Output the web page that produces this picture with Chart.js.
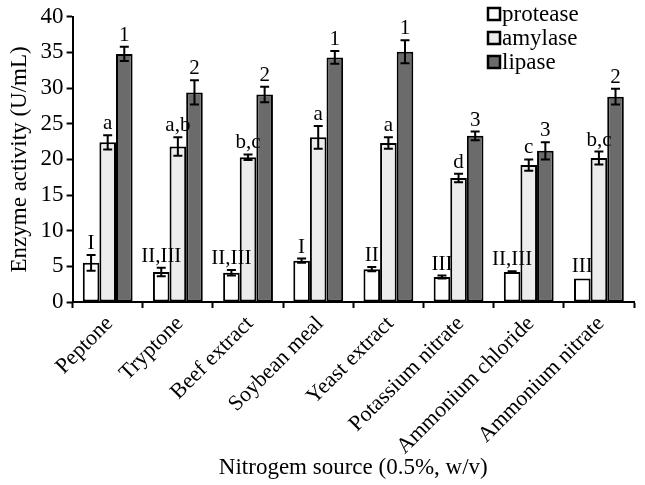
<!DOCTYPE html>
<html>
<head>
<meta charset="utf-8">
<script src="https://cdn.jsdelivr.net/npm/chart.js@4.4.0/dist/chart.umd.min.js"></script>
<style>
  html, body { margin: 0; padding: 0; background: #fff; }
  #wrap { width: 645px; height: 485px; position: relative; }
</style>
</head>
<body>
<div id="wrap"><canvas id="myChart"></canvas></div>
<script>
// categories and series values (U/mL)
const categories = [
  "Peptone", "Tryptone", "Beef extract", "Soybean meal",
  "Yeast extract", "Potassium nitrate", "Ammonium chloride", "Ammonium nitrate",
];
const protease = [5.5, 4.2, 4.1, 5.8, 4.6, 3.5, 4.2, 3.3];
const amylase = [22.4, 21.8, 20.3, 23.1, 22.3, 17.4, 19.2, 20.2];
const lipase = [34.8, 29.4, 29.1, 34.3, 35.1, 23.3, 21.2, 28.8];

// error (± SD)
const proteaseErr = [1.1, 0.6, 0.4, 0.3, 0.3, 0.2, 0.1, 0];
const amylaseErr = [1.0, 1.3, 0.4, 1.6, 0.8, 0.6, 0.8, 0.9];
const lipaseErr = [1.0, 1.7, 1.1, 0.9, 1.6, 0.6, 1.2, 1.1];

// significance letters
const proteaseLbl = ["I", "II,III", "II,III", "I", "II", "III", "II,III", "III"];
const amylaseLbl = ["a", "a,b", "b,c", "a", "a", "d", "c", "b,c"];
const lipaseLbl = ["1", "2", "2", "1", "1", "3", "3", "2"];

const yTicks = [0, 5, 10, 15, 20, 25, 30, 35, 40];

const FONT = "'Liberation Serif', 'Times New Roman', serif";

const series = [
  { label: "protease", data: protease, err: proteaseErr, marks: proteaseLbl, color: "#ffffff" },
  { label: "amylase", data: amylase, err: amylaseErr, marks: amylaseLbl, color: "#ececec" },
  { label: "lipase", data: lipase, err: lipaseErr, marks: lipaseLbl, color: "#6b6b6b" },
];

// error bars + letters above them
const errorBarPlugin = {
  id: "errorBars",
  afterDatasetsDraw(chart) {
    const { ctx } = chart;
    const y = chart.scales.y;
    ctx.save();
    chart.data.datasets.forEach((ds, i) => {
      const meta = chart.getDatasetMeta(i);
      meta.data.forEach((bar, j) => {
        const v = ds.data[j];
        const e = ds.err[j];
        const top = y.getPixelForValue(v + e);
        const bot = y.getPixelForValue(v - e);
        if (e > 0) {
          ctx.strokeStyle = "#000";
          ctx.lineWidth = 2;
          ctx.beginPath();
          ctx.moveTo(bar.x, top);
          ctx.lineTo(bar.x, bot);
          ctx.moveTo(bar.x - 4.5, top);
          ctx.lineTo(bar.x + 4.5, top);
          ctx.moveTo(bar.x - 4.5, bot);
          ctx.lineTo(bar.x + 4.5, bot);
          ctx.stroke();
        }
        ctx.fillStyle = "#000";
        ctx.font = `21px ${FONT}`;
        ctx.textAlign = "center";
        ctx.textBaseline = "bottom";
        ctx.fillText(ds.marks[j], bar.x, Math.min(top, y.getPixelForValue(v)) - 1);
      });
    });
    ctx.restore();
  },
};

// legend drawn inside the plot, top right
const boxLegendPlugin = {
  id: "boxLegend",
  afterDraw(chart) {
    const { ctx } = chart;
    ctx.save();
    series.forEach((s, i) => {
      const cy = 14 + i * 24;
      ctx.fillStyle = s.color;
      ctx.fillRect(488, cy - 6, 12, 12);
      ctx.strokeStyle = "#000";
      ctx.lineWidth = 2.5;
      ctx.strokeRect(488, cy - 6, 12, 12);
      ctx.fillStyle = "#000";
      ctx.font = `23px ${FONT}`;
      ctx.textAlign = "left";
      ctx.textBaseline = "middle";
      ctx.fillText(s.label, 502, cy + 1);
    });
    ctx.restore();
  },
};

const chartConfig = {
  type: "bar",
  data: {
    labels: categories,
    datasets: series.map((s) => ({
      label: s.label,
      data: s.data,
      err: s.err,
      marks: s.marks,
      backgroundColor: s.color,
      borderColor: "#000",
      borderWidth: 2,
      borderSkipped: false,
      barPercentage: 1.0,
      categoryPercentage: 0.71,
    })),
  },
  options: {
    responsive: true,
    maintainAspectRatio: false,
    animation: false,
    layout: { padding: { top: 3, right: 11, bottom: 3, left: 6 } },
    plugins: {
      legend: { display: false },
      tooltip: { enabled: false },
    },
    scales: {
      x: {
        afterFit: (scale) => {
          scale.height = 180;
        },
        grid: {
          drawOnChartArea: false,
          drawTicks: true,
          tickLength: 6,
          tickWidth: 2,
          tickColor: "#000",
          offset: true,
        },
        border: { color: "#000", width: 2 },
        ticks: {
          color: "#000",
          font: { family: FONT, size: 22 },
          maxRotation: 45,
          minRotation: 45,
          autoSkip: false,
          padding: 3,
          labelOffset: 2,
        },
        title: {
          display: true,
          text: "Nitrogem source (0.5%, w/v)",
          color: "#000",
          font: { family: FONT, size: 23 },
          padding: { top: 0, bottom: 0 },
        },
      },
      y: {
        min: 0,
        max: 40,
        afterBuildTicks: (axis) => {
          axis.ticks = yTicks.map((v) => ({ value: v }));
        },
        grid: {
          drawOnChartArea: false,
          drawTicks: true,
          tickLength: 6,
          tickWidth: 2,
          tickColor: "#000",
        },
        border: { color: "#000", width: 2 },
        ticks: {
          color: "#000",
          font: { family: FONT, size: 23 },
          padding: 3,
        },
        title: {
          display: true,
          text: "Enzyme activity (U/mL)",
          color: "#000",
          font: { family: FONT, size: 23 },
          padding: { top: 0, bottom: 4 },
        },
      },
    },
  },
  plugins: [errorBarPlugin, boxLegendPlugin],
};

const initChart = () => {
  const canvas = document.getElementById("myChart");
  if (!canvas) return;
  new Chart(canvas, chartConfig);
};

initChart();
</script>
</body>
</html>
